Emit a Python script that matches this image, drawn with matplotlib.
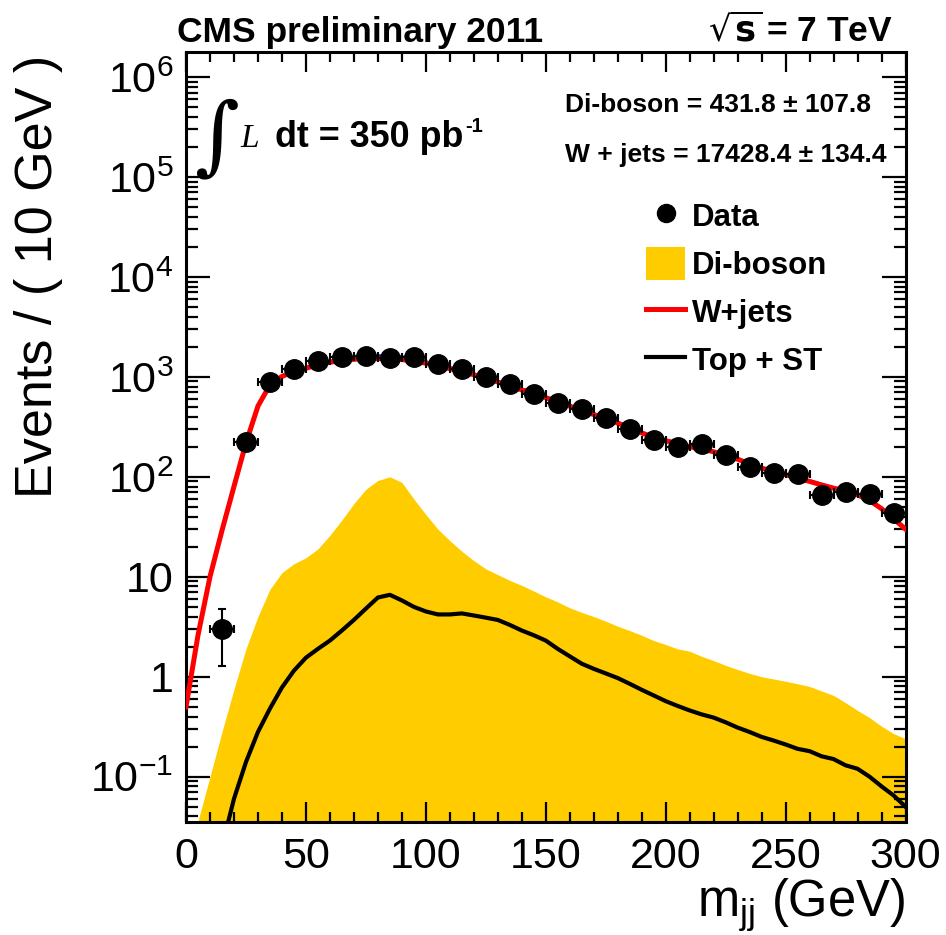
import numpy as np
import matplotlib
matplotlib.use("Agg")
import matplotlib.pyplot as plt
from matplotlib.lines import Line2D
from matplotlib.patches import Patch
from matplotlib.ticker import FixedLocator, FixedFormatter, MultipleLocator, LogLocator, NullFormatter

plt.rcParams['font.family'] = ['Liberation Sans', 'DejaVu Sans']
plt.rcParams['mathtext.default'] = 'regular'

# ---------------- data ----------------
data_x = [15, 25, 35, 45, 55, 65, 75, 85, 95, 105, 115, 125, 135, 145, 155, 165,
          175, 185, 195, 205, 215, 225, 235, 245, 255, 265, 275, 285, 295]
data_y = [3, 221, 880, 1186, 1435, 1585, 1622, 1549, 1585, 1340, 1186, 993, 839,
          671, 550, 475, 392, 298, 233, 200, 212, 166, 125, 110, 107, 66, 71, 68, 43]

curve_x = [0, 5, 10, 15, 20, 25, 30, 35, 40, 45, 50, 55, 60, 65, 70, 75, 80, 85, 90,
           95, 100, 105, 110, 115, 120, 125, 130, 135, 140, 145, 150, 155, 160, 165,
           170, 175, 180, 185, 190, 195, 200, 205, 210, 215, 220, 225, 230, 235, 240,
           245, 250, 255, 260, 265, 270, 275, 280, 285, 290, 295, 300]

wjets = [0.5, 2.6, 10, 29, 80, 218, 510, 830, 1010, 1130, 1220, 1320, 1400, 1460,
         1500, 1520, 1525, 1515, 1490, 1440, 1370, 1290, 1210, 1130, 1050, 970, 890,
         810, 740, 690, 620, 560, 510, 460, 420, 385, 345, 310, 275, 248, 230, 215,
         200, 190, 178, 165, 150, 135, 122, 114, 105, 97, 90, 83, 77, 72, 66, 58, 48,
         38, 30]

diboson = [0.02, 0.036, 0.1, 0.28, 0.75, 1.9, 4.0, 7.5, 11, 13.5, 15.5, 19, 26, 37,
           54, 75, 92, 100, 88, 60, 42, 30, 23, 18, 14.5, 12, 10.5, 9.2, 8.2, 7.2,
           6.3, 5.6, 4.9, 4.4, 4.0, 3.6, 3.2, 2.9, 2.6, 2.3, 2.1, 1.9, 1.8, 1.6, 1.45,
           1.3, 1.18, 1.08, 1.0, 0.95, 0.9, 0.85, 0.8, 0.72, 0.65, 0.55, 0.46, 0.39,
           0.32, 0.27, 0.24]

top_st = [0.001, 0.003, 0.008, 0.02, 0.06, 0.14, 0.28, 0.48, 0.78, 1.15, 1.55, 1.9,
          2.3, 2.9, 3.7, 4.8, 6.2, 6.6, 5.8, 5.0, 4.5, 4.2, 4.2, 4.3, 4.1, 3.9, 3.7,
          3.3, 2.9, 2.6, 2.3, 1.9, 1.6, 1.35, 1.2, 1.08, 0.97, 0.85, 0.74, 0.65, 0.57,
          0.51, 0.46, 0.42, 0.39, 0.35, 0.31, 0.28, 0.25, 0.23, 0.21, 0.19, 0.18, 0.16,
          0.15, 0.13, 0.12, 0.1, 0.08, 0.065, 0.05]

x_ticks = [0, 50, 100, 150, 200, 250, 300]
y_ticks = [1e-1, 1, 10, 1e2, 1e3, 1e4, 1e5, 1e6]
y_tick_labels = [r'$\mathregular{10^{-1}}$', '1', '10', r'$\mathregular{10^{2}}$',
                 r'$\mathregular{10^{3}}$', r'$\mathregular{10^{4}}$',
                 r'$\mathregular{10^{5}}$', r'$\mathregular{10^{6}}$']

# ---------------- figure ----------------
W, H = 946, 935
fig = plt.figure(figsize=(W / 100, H / 100), dpi=100)


def fx(px):
    return px / W


def fy(py):
    return 1 - py / H


L, R, B, T = 186, 905.5, 822, 52
ax = fig.add_axes([fx(L), fy(B), fx(R) - fx(L), fy(T) - fy(B)])
ax.set_yscale('log')
ax.set_xlim(0, 300)
ax.set_ylim(0.0352, 1.78e6)

YELLOW = '#FFCC00'
cx = np.array(curve_x, dtype=float)
total = np.array(wjets) + np.array(diboson) + np.array(top_st)

ax.fill_between(cx, 1e-4, diboson, color=YELLOW, lw=0, zorder=1)
ax.plot(cx, top_st, color='black', lw=3.0, zorder=2, solid_joinstyle='round')
ax.plot(cx, total, color='#0000FF', lw=2.2, zorder=3)
ax.plot(cx, wjets, color='#FF0000', lw=3.6, zorder=4, solid_joinstyle='round')

dx = np.array(data_x, dtype=float)
dy = np.array(data_y, dtype=float)
ax.errorbar(dx, dy, xerr=5, yerr=np.sqrt(dy), fmt='o', color='black', ms=14,
            elinewidth=1.5, capsize=3.2, capthick=1.5, zorder=5)

# ---------------- axes styling ----------------
for s in ax.spines.values():
    s.set_linewidth(2.2)

ax.xaxis.set_major_locator(FixedLocator(x_ticks))
ax.xaxis.set_minor_locator(MultipleLocator(10))
ax.set_xticklabels([str(v) for v in x_ticks])
ax.yaxis.set_major_locator(FixedLocator(y_ticks))
ax.yaxis.set_major_formatter(FixedFormatter(y_tick_labels))
ax.yaxis.set_minor_locator(LogLocator(base=10, subs=np.arange(2, 10), numticks=50))
ax.yaxis.set_minor_formatter(NullFormatter())

ax.tick_params(axis='both', which='both', direction='in', top=True, right=True,
               width=1.6, labelsize=31)
ax.tick_params(axis='x', which='major', length=14.5, pad=11)
ax.tick_params(axis='x', which='minor', length=7.2)
ax.tick_params(axis='y', which='major', length=17.5, pad=9)
ax.tick_params(axis='y', which='minor', length=8.7)

# axis titles
fig.text(fx(52), fy(55), 'Events / ( 10 GeV )', rotation=90, rotation_mode='anchor',
         ha='right', va='baseline', fontsize=37.5)
fig.text(fx(905), fy(916), r'm$_{\mathregular{jj}}$ (GeV)', ha='right', va='baseline',
         fontsize=36.5)

# header texts
fig.text(fx(177), fy(41.7), 'CMS preliminary 2011', ha='left', va='baseline',
         fontsize=25.5, fontweight='bold')
fig.text(fx(893), fy(41.7), r'$\sqrt{\mathbf{s}}\,$= 7 TeV', ha='right', va='baseline',
         fontsize=25.5, fontweight='bold')

# luminosity
fig.text(fx(194), fy(163), '\u222b', family=['DejaVu Serif'], fontsize=62,
         ha='left', va='baseline')
fig.text(fx(240), fy(146.7), 'L', family=['Liberation Serif'], style='italic',
         fontsize=24, ha='left', va='baseline')
fig.text(fx(275), fy(146.7), 'dt = 350 pb', ha='left', va='baseline',
         fontsize=25.8, fontweight='bold')
fig.text(fx(465), fy(132), '-1', ha='left', va='baseline', fontsize=14.5,
         fontweight='bold')

# yields
fig.text(fx(565), fy(112), 'Di-boson = 431.8 \u00b1 107.8', ha='left', va='baseline',
         fontsize=19, fontweight='bold')
fig.text(fx(565), fy(162), 'W + jets = 17428.4 \u00b1 134.4', ha='left', va='baseline',
         fontsize=19, fontweight='bold')

# legend
handles = [
    Line2D([], [], marker='o', color='black', ls='none', ms=13),
    Patch(facecolor=YELLOW, edgecolor='none'),
    Line2D([], [], color='#FF0000', lw=3.6),
    Line2D([], [], color='black', lw=3.0),
]
labels = ['Data', 'Di-boson', 'W+jets', 'Top + ST']
leg = ax.legend(handles, labels, loc='upper left',
                bbox_to_anchor=(fx(646), fy(199)), bbox_transform=fig.transFigure,
                frameon=False, borderpad=0, borderaxespad=0, handlelength=1.25,
                handleheight=1.25, handletextpad=0.22, labelspacing=0.45,
                prop={'size': 22.5, 'weight': 'bold'})

fig.savefig('out.png', dpi=100)
